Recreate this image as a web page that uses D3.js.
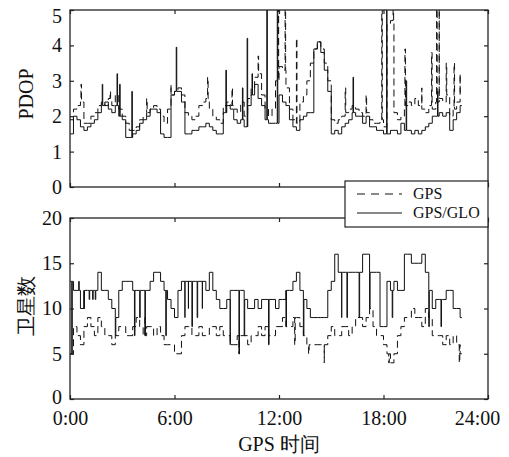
<!DOCTYPE html>
<html>
<head>
<meta charset="utf-8">
<script src="https://cdn.jsdelivr.net/npm/d3@7"></script>
<style>
  body { margin: 0; background: #fff; }
  text { font-family: "Liberation Serif", "Times New Roman", serif; fill: #111; }
</style>
</head>
<body>
<script>
// sample step of the base series, hours
var step = 0.2;

// PDOP, GPS/GLO, one value each 0.2 h from 0:00
var pdopGlo = [
  1.5, 2.0, 1.9, 1.7, 1.6,
  1.7, 1.8, 1.9, 2.1, 2.3,
  2.4, 2.2, 2.1, 2.3, 2.0,
  1.9, 1.4, 1.4, 1.5, 1.6,
  1.8, 1.9, 2.0, 2.2, 2.2,
  2.1, 1.5, 1.4, 1.4, 2.6,
  2.7, 2.7, 2.4, 1.5, 1.5,
  1.6, 1.6, 1.7, 1.7, 1.8,
  1.7, 1.6, 1.5, 1.5, 2.1,
  2.3, 2.2, 1.9, 1.8, 1.9,
  1.7, 2.3, 2.6, 2.9, 2.5,
  2.3, 1.9, 1.8, 1.8, 1.8,
  2.6, 2.4, 2.3, 1.9, 1.7,
  1.6, 1.9, 2.0, 2.1, 2.1,
  3.9, 4.1, 3.8, 3.3, 2.7,
  1.5, 1.6, 1.5, 1.7, 1.8,
  1.9, 2.1, 2.0, 2.0, 1.8,
  2.0, 1.7, 1.7, 1.6, 1.6,
  1.5, 1.7, 1.6, 1.6, 1.5,
  1.8, 1.6, 1.6, 1.5, 1.6,
  1.5, 1.6, 1.7, 1.8, 2.0,
  2.0, 2.1, 2.0, 2.1, 1.6,
  1.9, 2.1, 2.3
];
// PDOP, GPS only
var pdopGps = [
  1.9, 2.2, 2.3, 2.4, 1.8,
  1.8, 2.0, 2.1, 2.3, 2.4,
  2.3, 2.5, 2.3, 2.6, 2.2,
  2.0, 1.8, 1.6, 1.6, 1.7,
  1.9, 2.0, 2.1, 2.2, 2.3,
  2.2, 2.0, 1.8, 2.2, 2.6,
  2.7, 2.8, 2.6, 2.1, 2.0,
  1.9, 2.0, 2.3, 2.4, 2.5,
  2.2, 2.0, 1.9, 1.8, 2.3,
  2.4, 2.3, 2.2, 2.1, 2.4,
  2.0, 2.5, 2.8, 3.1, 3.2,
  2.6, 2.2, 2.0, 2.2, 3.0,
  3.4, 3.3, 2.8, 2.2, 1.9,
  1.8, 2.4, 2.6, 3.0, 3.5,
  3.9, 4.1, 3.9, 3.5, 3.0,
  1.9, 1.8, 1.9, 2.0, 2.1,
  2.2, 2.3, 2.2, 2.1, 2.0,
  2.1, 1.9, 1.8, 1.8, 1.9,
  1.7, 4.6, 4.7, 2.1, 1.9,
  2.0, 2.3, 2.4, 2.3, 2.5,
  2.3, 2.2, 2.1, 2.3, 2.2,
  2.4, 2.5, 2.4, 2.6, 2.0,
  2.2, 2.4, 2.6
];
// short spikes [hour, value]
var pdopGloSpikes = [
  [1.85, 2.9], [2.7, 3.2], [2.85, 2.9], [3.55, 2.7], [6.1, 3.95],
  [8.95, 3.3], [9.9, 2.8], [10.17, 4.2], [10.45, 3.2], [11.3, 5.5],
  [11.9, 5.5], [16.25, 3.1], [18.18, 5.5], [19.3, 3.0], [21.1, 2.7]
];
var pdopGpsSpikes = [
  [0.63, 2.9], [2.3, 2.7], [4.4, 2.5], [5.8, 2.9], [7.9, 3.1],
  [9.3, 2.8], [10.8, 3.7], [11.95, 5.5], [12.35, 5.5], [13.0, 4.2],
  [13.6, 3.0], [15.8, 2.8], [17.0, 2.6], [17.9, 5.5], [18.55, 5.5],
  [19.23, 3.9], [20.2, 2.8], [20.76, 3.8], [21.05, 5.5], [21.2, 5.5],
  [21.6, 3.5], [22.05, 3.5], [22.4, 3.2]
];

// number of satellites
var satGlo = [
  13, 12, 12, 10, 12,
  12, 12, 12, 14, 12,
  12, 11, 10, 9, 12,
  13, 13, 13, 12, 12,
  12, 12, 12, 13, 14,
  14, 13, 12, 11, 10,
  9, 12, 13, 13, 13,
  13, 13, 13, 13, 12,
  14, 12, 11, 10, 10,
  11, 12, 12, 12, 12,
  11, 10, 10, 11, 10,
  11, 11, 11, 11, 10,
  11, 11, 12, 12, 13,
  14, 12, 11, 10, 9,
  9, 9, 9, 9, 12,
  13, 16, 14, 14, 14,
  14, 14, 14, 14, 16,
  16, 14, 14, 14, 8,
  8, 13, 12, 13, 12,
  12, 16, 16, 15, 15,
  15, 16, 14, 12, 10,
  11, 11, 11, 12, 12,
  10, 10, 9
];
var satGps = [
  5, 8, 7, 6, 8,
  9, 8, 7, 9, 8,
  7, 7, 6, 7, 8,
  8, 7, 7, 8, 9,
  8, 7, 8, 8, 7,
  8, 7, 6, 6, 6,
  5, 5, 7, 8, 8,
  7, 7, 8, 7, 7,
  8, 8, 7, 8, 7,
  7, 6, 6, 7, 7,
  7, 6, 7, 7, 8,
  7, 8, 7, 7, 8,
  8, 9, 8, 8, 9,
  9, 8, 7, 6, 6,
  6, 6, 6, 6, 7,
  8, 7, 7, 8, 8,
  7, 8, 9, 9, 8,
  9, 10, 8, 7, 7,
  6, 5, 4, 5, 7,
  8, 9, 9, 10, 9,
  9, 8, 10, 9, 7,
  7, 7, 6, 7, 6,
  7, 6, 5
];
var satGloSpikes = [
  [0.1, 5], [0.5, 13], [0.8, 10], [1.1, 11], [1.3, 11], [1.45, 11],
  [2.6, 7], [3.7, 7], [4.0, 9], [4.3, 7], [5.5, 7], [6.6, 9], [6.8, 10],
  [7.0, 8], [7.3, 9], [7.6, 10], [9.2, 6], [9.7, 5], [10.0, 7], [11.4, 6],
  [12.4, 8], [13.4, 7], [15.6, 9], [15.9, 9], [16.6, 9], [17.2, 10],
  [18.5, 9], [20.6, 8], [21.3, 8]
];
var satGpsSpikes = [
  [4.3, 9], [9.7, 5], [12.9, 6], [13.7, 5], [14.6, 4], [18.3, 4], [22.35, 4]
];

var xTicks = [0, 6, 12, 18, 24];
var xTickLabels = ["0:00", "6:00", "12:00", "18:00", "24:00"];
var pdopTicks = [0, 1, 2, 3, 4, 5];
var satTicks = [0, 5, 10, 15, 20];

var W = 509, H = 457;
var L = 70, R = 488;

var svg = d3.select("body").append("svg")
    .attr("width", W)
    .attr("height", H);

var x = d3.scaleLinear().domain([0, 24]).range([L, R]);
var yTop = d3.scaleLinear().domain([0, 5]).range([187, 10]);
var yBot = d3.scaleLinear().domain([0, 20]).range([399, 218]);

function build(base, spikes) {
    var pts = base.map(function (v, i) { return { t: i * step, v: v }; });
    spikes.forEach(function (s) {
        var i = Math.min(Math.floor(s[0] / step + 1e-9), base.length - 1);
        pts.push({ t: s[0], v: s[1] });
        pts.push({ t: s[0] + 0.03, v: base[i] });
    });
    pts.push({ t: base.length * step - 0.1, v: base[base.length - 1] });
    pts.sort(function (a, b) { return a.t - b.t; });
    return pts;
}

function panel(y, ticks, series, clipId, showX) {
    var y0 = y.range()[0], y1 = y.range()[1];

    svg.append("clipPath").attr("id", clipId)
        .append("rect")
        .attr("x", L).attr("y", y1)
        .attr("width", R - L).attr("height", y0 - y1);

    var g = svg.append("g").attr("clip-path", "url(#" + clipId + ")");
    series.forEach(function (s) {
        var line = d3.line()
            .x(function (d) { return x(d.t); })
            .y(function (d) { return y(d.v); })
            .curve(d3.curveStepAfter);
        g.append("path")
            .datum(s.pts)
            .attr("fill", "none")
            .attr("stroke", "#111")
            .attr("stroke-width", 1)
            .attr("stroke-dasharray", s.dash)
            .attr("d", line);
    });

    // ticks on all four sides, pointing inward
    var left = svg.append("g").attr("transform", "translate(" + L + ",0)")
        .call(d3.axisLeft(y).tickValues(ticks).tickSize(-4).tickPadding(8).tickFormat(d3.format("d")));
    var right = svg.append("g").attr("transform", "translate(" + R + ",0)")
        .call(d3.axisRight(y).tickValues(ticks).tickSize(-4).tickFormat(""));
    var top = svg.append("g").attr("transform", "translate(0," + y1 + ")")
        .call(d3.axisTop(x).tickValues(xTicks).tickSize(-4).tickFormat(""));
    var bottom = svg.append("g").attr("transform", "translate(0," + y0 + ")")
        .call(d3.axisBottom(x).tickValues(xTicks).tickSize(-4).tickPadding(12)
            .tickFormat(showX ? function (d, i) { return xTickLabels[i]; } : ""));

    [left, right, top, bottom].forEach(function (a) {
        a.select(".domain").remove();
        a.selectAll(".tick line").attr("stroke", "#222").attr("stroke-width", 1.2);
        a.selectAll("text")
            .style("font-family", "'Liberation Serif', serif")
            .style("font-size", "20px")
            .attr("fill", "#111");
    });

    // top label of the PDOP panel sits a little lower, last time label a little left
    if (!showX) {
        left.selectAll(".tick").filter(function (d) { return d === 5; })
            .select("text").attr("dy", "0.62em");
    } else {
        bottom.selectAll(".tick").filter(function (d) { return d === 24; })
            .select("text").attr("dx", "-11");
        left.selectAll(".tick").filter(function (d) { return d === 0; })
            .select("text").attr("dy", "0.2em");
    }

    svg.append("rect")
        .attr("x", L).attr("y", y1)
        .attr("width", R - L).attr("height", y0 - y1)
        .attr("fill", "none")
        .attr("stroke", "#222")
        .attr("stroke-width", 1.3);
}

panel(yTop, pdopTicks, [
    { pts: build(pdopGps, pdopGpsSpikes), dash: "7,4" },
    { pts: build(pdopGlo, pdopGloSpikes), dash: null }
], "clipTop", false);

panel(yBot, satTicks, [
    { pts: build(satGps, satGpsSpikes), dash: "7,4" },
    { pts: build(satGlo, satGloSpikes), dash: null }
], "clipBot", true);

// axis titles
svg.append("text")
    .attr("transform", "translate(33,94) rotate(-90)")
    .attr("text-anchor", "middle")
    .style("font-size", "20px")
    .text("PDOP");
svg.append("text")
    .attr("transform", "translate(33,306) rotate(-90)")
    .attr("text-anchor", "middle")
    .style("font-size", "20px")
    .text("卫星数");
svg.append("text")
    .attr("x", 279).attr("y", 451)
    .attr("text-anchor", "middle")
    .style("font-size", "20px")
    .text("GPS 时间");

// legend
var leg = svg.append("g");
leg.append("rect")
    .attr("x", 345).attr("y", 181)
    .attr("width", R - 345).attr("height", 46)
    .attr("fill", "#fff")
    .attr("stroke", "#222")
    .attr("stroke-width", 1.2);
var legItems = [
    { name: "GPS", dash: "8,6", y: 194 },
    { name: "GPS/GLO", dash: null, y: 213 }
];
legItems.forEach(function (d) {
    leg.append("line")
        .attr("x1", 357).attr("x2", 402)
        .attr("y1", d.y).attr("y2", d.y)
        .attr("stroke", "#111")
        .attr("stroke-width", 1)
        .attr("stroke-dasharray", d.dash);
    leg.append("text")
        .attr("x", 413).attr("y", d.y + 5)
        .style("font-size", "16px")
        .text(d.name);
});
</script>
</body>
</html>
